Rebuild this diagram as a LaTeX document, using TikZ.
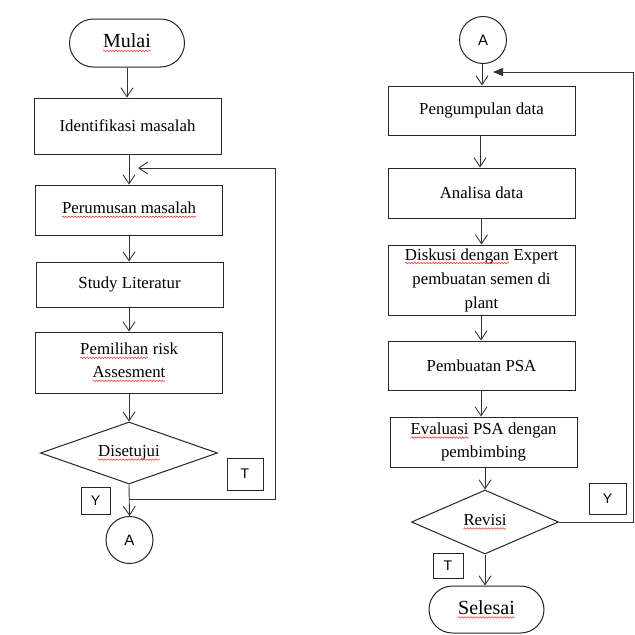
\documentclass[tikz,border=0pt]{standalone}
\usepackage{fontspec}
\setmainfont{Liberation Serif}
\newfontfamily\labelfont{Liberation Sans}
\usetikzlibrary{shapes.geometric,shapes.misc,arrows.meta,decorations.pathmorphing}

\tikzset{
  spell/.style={draw=red!75!white, line width=0.6pt, decorate,
    decoration={snake, amplitude=0.7pt, segment length=3pt}},
  line/.style={draw=black!80, line width=0.9pt},
  arr/.style={line, -{Straight Barb[length=9pt,width=12pt,line width=0.9pt]}},
  arrfill/.style={line, -{Triangle[length=10pt,width=8pt]}},
  proc/.style={rectangle, draw=black!85, line width=1pt, minimum width=187pt,
    inner sep=1pt, align=center, font=\fontsize{16.8}{23}\selectfont},
  term/.style={rounded rectangle, draw=black!85, line width=1pt, inner sep=0pt,
    minimum width=115pt, minimum height=48pt, font=\fontsize{20}{24}\selectfont},
  decision/.style={diamond, draw=black!85, line width=1pt, inner sep=0pt, aspect=2.8,
    font=\fontsize{16.8}{23}\selectfont},
  conn/.style={circle, draw=black!85, line width=1pt, inner sep=0pt,
    minimum size=47pt, font=\labelfont\fontsize{15}{18}\selectfont},
  tag/.style={rectangle, draw=black!85, line width=1pt, inner sep=0pt,
    font=\labelfont\fontsize{14}{16}\selectfont},
}

% word with a wavy red underline
\newcommand\wavy[1]{\tikz[baseline=(wv.base)]{\node[rectangle,draw=none,minimum size=0pt,inner sep=0pt,outer sep=0pt] (wv) {#1};
  \draw[spell] ([yshift=-3pt]wv.base west) -- ([yshift=-3pt]wv.base east);}}

\begin{document}
\begin{tikzpicture}[x=1pt,y=-1pt]
\useasboundingbox[fill=white] (0,0) rectangle (635,635);

% ---- left column ----
\node[term] (mulai) at (127,43) {\wavy{Mulai}};
\node[proc, minimum height=56pt] (ident) at (127.5,126) {Identifikasi masalah};
\node[proc, minimum height=50pt] (perum) at (129,210) {\wavy{Perumusan masalah}};
\node[proc, minimum height=45pt] (study) at (129.5,284.5) {Study Literatur};
\node[proc, minimum height=61pt] (pemil) at (129,362.5) {\wavy{Pemilihan} risk\\\wavy{Assesment}};
\node[decision, minimum width=177pt, minimum height=62pt] (dis) at (129,453) {\wavy{Disetujui}};
\node[conn] (ca) at (129.5,540) {A};
\node[tag, minimum width=36pt, minimum height=32pt] (tl) at (245,474) {T};
\node[tag, minimum width=29pt, minimum height=27pt] (yl) at (95.5,500.5) {Y};

\coordinate (jl) at (129,499);
\coordinate (cl) at (275,168);
\coordinate (el) at (138,168);

\draw[arr] (mulai.south) -- (mulai.south |- ident.north);
\draw[arr] (ident.south -| perum.north) -- (perum.north);
\draw[arr] (perum.south) -- (perum.south |- study.north);
\draw[arr] (study.south -| pemil.north) -- (pemil.north);
\draw[arr] (pemil.south) -- (dis.north);
\draw[arr] (dis.south) -- (ca.north);
\draw[arr] (jl) -- (jl -| cl) -- (cl) -- (el);

% ---- right column ----
\node[conn] (cb) at (483,40) {A};
\node[proc, minimum height=49pt] (peng) at (481.5,110.5) {Pengumpulan data};
\node[proc, minimum height=50pt] (anal) at (481.5,193) {Analisa data};
\node[proc, minimum height=70pt, font=\fontsize{16.8}{24}\selectfont] (disk) at (481.5,280)
  {\wavy{Diskusi dengan} Expert\\pembuatan semen di\\plant};
\node[proc, minimum height=49pt] (pemb) at (481.5,365.5) {Pembuatan PSA};
\node[proc, minimum height=50pt] (eval) at (483.5,442) {\wavy{Evaluasi} PSA dengan\\pembimbing};
\node[decision, minimum width=147pt, minimum height=64pt] (rev) at (485,522) {\wavy{Revisi}};
\node[term, minimum height=47pt] (sel) at (486.5,609.5) {\wavy{Selesai}};
\node[tag, minimum width=37pt, minimum height=31pt] (yr) at (607.5,498.5) {Y};
\node[tag, minimum width=30pt, minimum height=25pt] (tr) at (448,565.5) {T};

\coordinate (cr) at (633,72);
\coordinate (er) at (493,72);

\draw[arr] (cb.south -| 482,0) -- (482,0 |- peng.north);
\draw[arr] (peng.south -| 480,0) -- (480,0 |- anal.north);
\draw[arr] (anal.south -| 481.5,0) -- (481.5,0 |- disk.north);
\draw[arr] (disk.south -| 481,0) -- (481,0 |- pemb.north);
\draw[arr] (pemb.south -| 481,0) -- (481,0 |- eval.north);
\draw[arr] (eval.south -| rev.north) -- (rev.north);
\draw[arr] (rev.south) -- (rev.south |- sel.north);
\draw[arrfill] (rev.east) -- (rev.east -| cr) -- (cr) -- (er);
\end{tikzpicture}
\end{document}
